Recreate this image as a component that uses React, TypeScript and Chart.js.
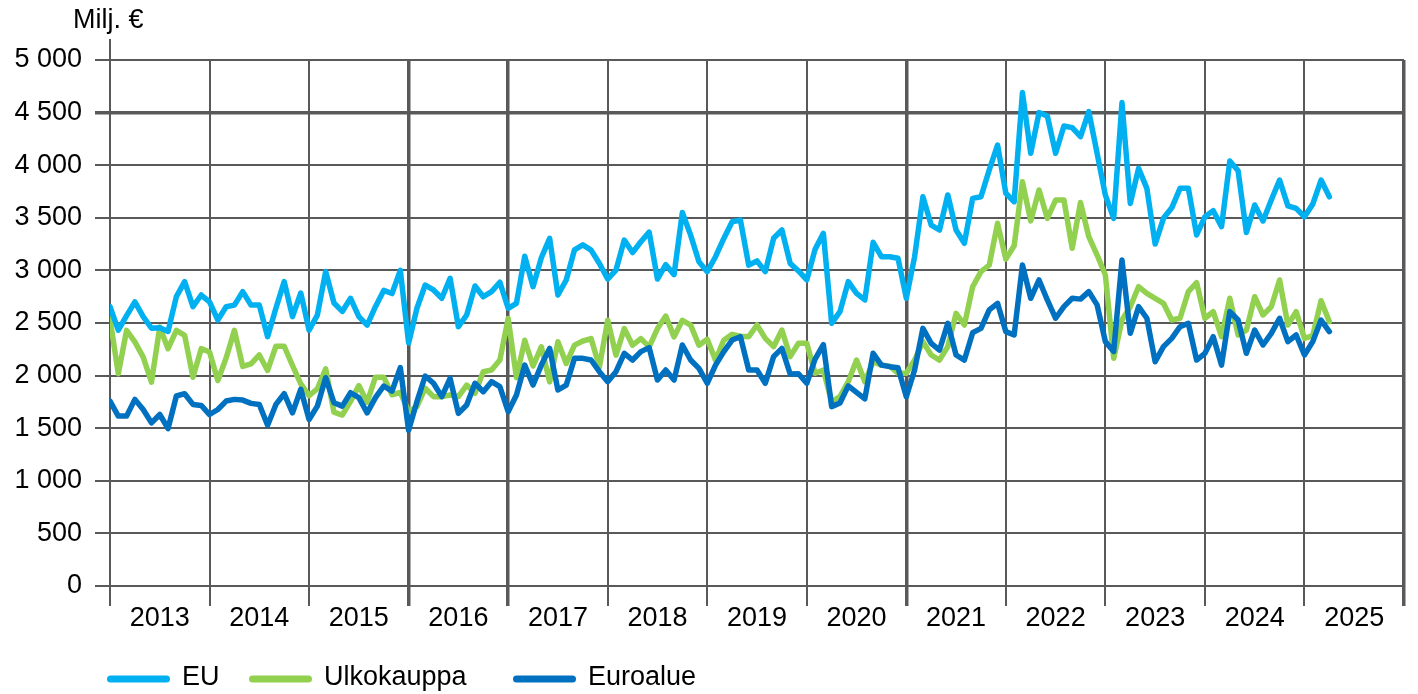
import React, { useEffect, useRef } from 'react';
import { Chart, registerables } from 'chart.js';

Chart.register(...registerables);

// ---- data (monthly, Jan 2013 – Apr 2025), milj. € ----
const FIRST_YEAR = 2013;
const YEAR_LABELS = ['2013', '2014', '2015', '2016', '2017', '2018', '2019', '2020', '2021', '2022', '2023', '2024', '2025'];

const EU = [
  2655, 2433, 2570, 2700, 2560, 2450, 2455, 2420, 2750, 2893, 2655, 2766,
  2700, 2528, 2655, 2670, 2798, 2670, 2670, 2370, 2640, 2893, 2560, 2785,
  2433, 2575, 2990, 2690, 2610, 2735, 2560, 2480, 2655, 2810, 2780, 3000,
  2310, 2640, 2861, 2814, 2735, 2925, 2465, 2576, 2852, 2750, 2798, 2887,
  2640, 2687, 3135, 2845, 3120, 3305, 2766, 2909, 3196, 3243, 3193, 3065,
  2918, 3003, 3288, 3170, 3272, 3364, 2918, 3054, 2960, 3550, 3335, 3082,
  2988, 3130, 3304, 3462, 3478, 3050, 3090, 2988, 3305, 3384, 3067, 2995,
  2909, 3200, 3352, 2497, 2608, 2893, 2782, 2719, 3267, 3130, 3130, 3115,
  2735, 3130, 3700, 3431, 3384, 3717, 3384, 3258, 3685, 3700, 3955, 4192,
  3733, 3653, 4690, 4113, 4500, 4468, 4113, 4373, 4357, 4271, 4509, 4113,
  3715, 3495, 4595, 3637, 3970, 3780, 3250, 3495, 3595, 3780, 3780, 3337,
  3510, 3568, 3416, 4040, 3947, 3360, 3622, 3470, 3669, 3859, 3614, 3590,
  3510, 3630, 3859, 3700,
];

const ULKOKAUPPA = [
  2540, 2018, 2430, 2320, 2176, 1938, 2462, 2256, 2430, 2383, 1985, 2256,
  2224, 1954, 2168, 2430, 2088, 2112, 2196, 2049, 2279, 2279, 2096, 1922,
  1810, 1875, 2065, 1652, 1625, 1755, 1905, 1747, 1985, 1985, 1818, 1841,
  1660, 1705, 1880, 1800, 1800, 1816, 1800, 1910, 1832, 2037, 2053, 2148,
  2543, 1980, 2336, 2091, 2273, 1940, 2321, 2115, 2290, 2329, 2352, 2083,
  2527, 2194, 2447, 2289, 2352, 2273, 2447, 2566, 2368, 2526, 2480, 2289,
  2345, 2146, 2337, 2392, 2374, 2370, 2481, 2354, 2275, 2433, 2180, 2307,
  2307, 2022, 2053, 1752, 1800, 1942, 2148, 1942, 2132, 2100, 2090, 2022,
  2022, 2148, 2323, 2196, 2148, 2275, 2592, 2481, 2845, 2988, 3051, 3448,
  3107, 3234, 3843, 3471, 3764, 3495, 3669, 3669, 3210, 3645, 3320, 3146,
  2956, 2164, 2528, 2655, 2845, 2782, 2735, 2687, 2528, 2545, 2798, 2883,
  2545, 2608, 2370, 2735, 2386, 2433, 2750, 2576, 2655, 2909, 2481, 2608,
  2354, 2380, 2712, 2513,
];

const EUROALUE = [
  1758, 1615, 1615, 1774, 1678, 1551, 1630, 1497, 1806, 1828, 1726, 1716,
  1630, 1678, 1758, 1774, 1767, 1736, 1726, 1529, 1726, 1828, 1646, 1870,
  1583, 1710, 1980, 1742, 1710, 1837, 1790, 1646, 1790, 1901, 1853, 2076,
  1480, 1752, 1996, 1927, 1800, 1974, 1641, 1720, 1927, 1847, 1942, 1895,
  1657, 1816, 2100, 1910, 2100, 2259, 1863, 1910, 2164, 2164, 2148, 2037,
  1942, 2037, 2212, 2148, 2228, 2266, 1958, 2053, 1958, 2291, 2148, 2069,
  1927, 2100, 2228, 2338, 2370, 2053, 2053, 1927, 2180, 2259, 2015, 2018,
  1927, 2156, 2294, 1705, 1740, 1902, 1840, 1779, 2212, 2100, 2085, 2075,
  1800, 2053, 2449, 2307, 2243, 2497, 2196, 2148, 2408, 2449, 2624, 2687,
  2418, 2386, 3051, 2735, 2909, 2719, 2545, 2655, 2735, 2727, 2798, 2672,
  2323, 2228, 3099, 2402, 2655, 2545, 2132, 2275, 2354, 2465, 2497, 2148,
  2212, 2370, 2100, 2608, 2528, 2212, 2433, 2291, 2402, 2545, 2323, 2386,
  2196, 2323, 2528, 2418,
];

const SERIES_LABELS = ['EU', 'Ulkokauppa', 'Euroalue'];
const SERIES_COLORS = ['#00B0F0', '#92D050', '#0070C0'];
const Y_MAX = 5000;
const Y_STEP = 500;
const THICK_Y = [4500];
const THICK_YEARS = ['2016', '2017', '2021'];

// ---- styling / layout ----
const FONT = '"Liberation Sans", Arial, sans-serif';
const FONT_SIZE = 27;
const GRID = '#595959';
const GRID_W = 2;
const GRID_W_THICK = 3.5;
const W = 1418;
const H = 694;
const LEGEND_X = [107, 249, 513];
const LEGEND_Y = 679;

const toPoints = (arr: number[]) => arr.map((v, i) => ({ x: i, y: v }));
const fmt = (v: number) => String(v).replace(/\B(?=(\d{3})+(?!\d))/g, '\u00a0');

const extrasPlugin = {
  id: 'extras',
  afterDraw(chart: any) {
    const { ctx, chartArea } = chart;
    ctx.save();
    // unit label
    ctx.fillStyle = '#000';
    ctx.font = `${FONT_SIZE}px ${FONT}`;
    ctx.textAlign = 'left';
    ctx.textBaseline = 'alphabetic';
    ctx.fillText('Milj. €', chartArea.left - 37, 28);
    // axis line extending above the plot
    ctx.strokeStyle = GRID;
    ctx.lineWidth = GRID_W;
    ctx.beginPath();
    ctx.moveTo(chartArea.left, chartArea.top - 21);
    ctx.lineTo(chartArea.left, chartArea.top);
    ctx.stroke();
    // legend
    chart.data.datasets.forEach((ds: any, i: number) => {
      const x = LEGEND_X[i];
      ctx.strokeStyle = ds.borderColor;
      ctx.lineWidth = 7;
      ctx.lineCap = 'round';
      ctx.beginPath();
      ctx.moveTo(x + 3.5, LEGEND_Y);
      ctx.lineTo(x + 59.5, LEGEND_Y);
      ctx.stroke();
      ctx.fillStyle = '#000';
      ctx.textBaseline = 'middle';
      ctx.fillText(ds.label, x + 75, LEGEND_Y - 1);
    });
    ctx.restore();
  },
};

export default function App() {
  const ref = useRef<HTMLCanvasElement>(null);

  useEffect(() => {
    document.body.style.margin = '0';
    const series = [EU, ULKOKAUPPA, EUROALUE];
    const chart = new Chart(ref.current as HTMLCanvasElement, {
      type: 'line',
      data: {
        datasets: series.map((arr, i) => ({
          label: SERIES_LABELS[i],
          data: toPoints(arr),
          borderColor: SERIES_COLORS[i],
          backgroundColor: SERIES_COLORS[i],
          borderWidth: 5.5,
          pointRadius: 0,
          tension: 0,
          borderCapStyle: 'round',
          borderJoinStyle: 'round',
          order: i === 2 ? 0 : i === 0 ? 1 : 2,
        })),
      },
      options: {
        animation: false,
        responsive: true,
        maintainAspectRatio: false,
        layout: { padding: { top: 60, right: 14, left: 0, bottom: 0 } },
        plugins: { legend: { display: false }, tooltip: { enabled: false }, title: { display: false } },
        scales: {
          x: {
            type: 'linear',
            min: 0,
            max: YEAR_LABELS.length * 12,
            afterFit: (s: any) => { s.height = 108; },
            afterBuildTicks: (s: any) => {
              const t = [];
              for (let v = 0; v <= YEAR_LABELS.length * 12; v += 6) t.push({ value: v });
              s.ticks = t;
            },
            border: { display: false },
            grid: {
              tickLength: 20,
              color: (c: any) => (c.tick && c.tick.value % 12 === 0 ? GRID : 'rgba(0,0,0,0)'),
              lineWidth: (c: any) => {
                const v = c.tick ? c.tick.value : 0;
                const yr = String(FIRST_YEAR + v / 12);
                return THICK_YEARS.includes(yr) || v === YEAR_LABELS.length * 12 ? GRID_W_THICK : GRID_W;
              },
            },
            ticks: {
              autoSkip: false,
              maxRotation: 0,
              padding: -4,
              color: '#000',
              font: { family: FONT, size: FONT_SIZE },
              callback: (v: any) => (Number(v) % 12 === 6 ? YEAR_LABELS[(Number(v) - 6) / 12] : ''),
            },
          },
          y: {
            min: 0,
            max: Y_MAX,
            afterFit: (s: any) => { s.width = 110; },
            border: { display: false },
            grid: {
              tickLength: 15,
              color: GRID,
              lineWidth: (c: any) => (c.tick && THICK_Y.includes(c.tick.value) ? GRID_W_THICK : GRID_W),
            },
            ticks: {
              stepSize: Y_STEP,
              padding: 13,
              color: '#000',
              font: { family: FONT, size: FONT_SIZE },
              callback: (v: any) => fmt(Number(v)),
            },
          },
        },
      },
      plugins: [extrasPlugin],
    });
    return () => chart.destroy();
  }, []);

  return (
    <div style={{ width: W, height: H, position: 'relative' }}>
      <canvas ref={ref} />
    </div>
  );
}
